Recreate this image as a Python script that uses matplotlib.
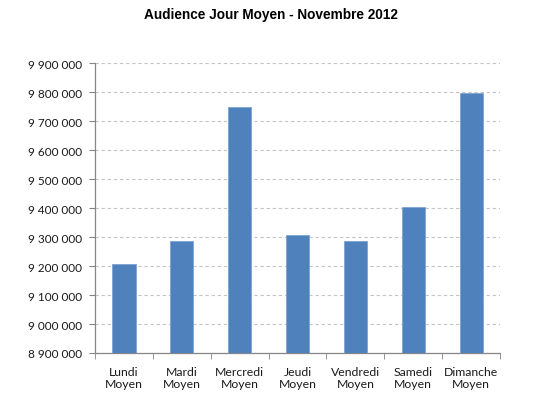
import matplotlib
matplotlib.use("Agg")
import matplotlib.pyplot as plt
from matplotlib.ticker import FuncFormatter, MultipleLocator, FixedLocator
import numpy as np

categories = ["Lundi\nMoyen", "Mardi\nMoyen", "Mercredi\nMoyen", "Jeudi\nMoyen",
              "Vendredi\nMoyen", "Samedi\nMoyen", "Dimanche\nMoyen"]
values = [9206000, 9288000, 9749000, 9306000, 9288000, 9403000, 9796000]
title = "Audience Jour Moyen - Novembre 2012"

fig = plt.figure(figsize=(5.5, 4.06), dpi=100)
ax = fig.add_axes([95/550, 1-354/406, (500-95)/550, (354-64.3)/406])

x = np.arange(len(categories))
ax.bar(x, values, width=0.4, color="#4F81BD", edgecolor="#7EA3D2", linewidth=0.6, zorder=3)
ax.set_xlim(-0.5, len(categories)-0.5)
ax.set_ylim(8900000, 9900000)
ax.yaxis.set_major_locator(MultipleLocator(100000))
ax.yaxis.set_major_formatter(FuncFormatter(lambda v, p: f"{int(round(v)):,}".replace(",", " ")))
ax.grid(axis="y", color="#C4C4C4", linestyle=(0, (3, 2.5)), linewidth=0.8, zorder=0)

ax.set_xticks(x)
ax.set_xticklabels(categories)
ax.xaxis.set_minor_locator(FixedLocator(np.arange(-0.5, len(categories), 1.0)))
ax.tick_params(axis="x", which="major", length=0, pad=9)
ax.tick_params(axis="x", which="minor", length=4, color="#868686", direction="out")
ax.tick_params(axis="y", length=4, color="#868686", direction="out", pad=5.5)

for s in ["top", "right"]:
    ax.spines[s].set_visible(False)
for s in ["left", "bottom"]:
    ax.spines[s].set_color("#868686")
    ax.spines[s].set_linewidth(0.9)

for lab in ax.get_yticklabels():
    lab.set_fontfamily("Lato")
    lab.set_fontsize(8.5)
    lab.set_color("#1a1a1a")
for lab in ax.get_xticklabels():
    lab.set_fontfamily("Lato")
    lab.set_fontsize(8.8)
    lab.set_color("#1a1a1a")
    lab.set_linespacing(1.15)

fig.text(271/550, 1-14.5/406, title, ha="center", va="center",
         fontsize=9.8, fontweight="bold", family="Liberation Sans")

fig.savefig("out.png", dpi=100, facecolor="white")
